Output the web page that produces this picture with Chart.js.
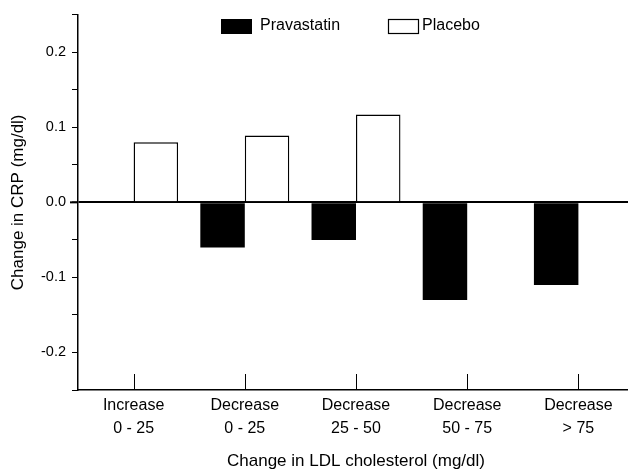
<!DOCTYPE html>
<html>
<head>
<meta charset="utf-8">
<script src="https://cdn.jsdelivr.net/npm/chart.js@4"></script>
<style>
  html, body { margin: 0; padding: 0; background: #fff; overflow: hidden; }
  #wrap { width: 634px; height: 473px; }
</style>
</head>
<body>
<div id="wrap"><canvas id="chart"></canvas></div>
<script>
const categories = [
    ['Increase', '0 - 25'],
    ['Decrease', '0 - 25'],
    ['Decrease', '25 - 50'],
    ['Decrease', '50 - 75'],
    ['Decrease', '> 75']
];
const pravastatin = [0, -0.06, -0.05, -0.13, -0.11];
const placebo = [0.08, 0.089, 0.117, 0, 0];
const yTicks = [-0.2, -0.1, 0.0, 0.1, 0.2];

const font = "'Liberation Sans', Arial, sans-serif";

// ticks pointing up into the plot at each category
const innerTicks = {
    id: 'innerTicks',
    afterDatasetsDraw(chart) {
        const c = chart.ctx, x = chart.scales.x, bottom = chart.chartArea.bottom;
        c.save();
        c.strokeStyle = '#000';
        c.lineWidth = 1;
        categories.forEach((cat, i) => {
            const px = Math.round(x.getPixelForValue(i)) + 0.5;
            c.beginPath();
            c.moveTo(px, bottom);
            c.lineTo(px, bottom - 16);
            c.stroke();
        });
        // zero line runs a little past the axis on the left
        const y0 = chart.scales.y.getPixelForValue(0);
        c.lineWidth = 2;
        c.beginPath();
        c.moveTo(chart.chartArea.left - 8, y0);
        c.lineTo(chart.chartArea.left, y0);
        c.stroke();
        c.restore();
    }
};

// legend sitting inside the plot
const insideLegend = {
    id: 'insideLegend',
    afterDraw(chart) {
        const c = chart.ctx;
        const spots = [{box: 221, text: 260}, {box: 388, text: 422}];
        c.save();
        c.font = '16px ' + font;
        c.textBaseline = 'middle';
        chart.data.datasets.forEach((ds, i) => {
            const s = spots[i];
            c.fillStyle = ds.backgroundColor;
            c.fillRect(s.box, 19, 31, 15);
            if (ds.borderWidth) {
                c.strokeStyle = '#000';
                c.lineWidth = 1.2;
                c.strokeRect(s.box + 0.5, 19.5, 30, 14);
            }
            c.fillStyle = '#000';
            c.fillText(ds.label, s.text, 26);
        });
        c.restore();
    }
};

new Chart(document.getElementById('chart'), {
    type: 'bar',
    data: {
        labels: categories,
        datasets: [
            {
                label: 'Pravastatin',
                data: pravastatin,
                backgroundColor: '#000',
                borderWidth: 0
            },
            {
                label: 'Placebo',
                data: placebo,
                backgroundColor: '#fff',
                borderColor: '#000',
                borderWidth: 1.4
            }
        ]
    },
    options: {
        responsive: true,
        maintainAspectRatio: false,
        animation: false,
        categoryPercentage: 0.8,
        barPercentage: 1.0,
        layout: { padding: { top: 11, right: 0, bottom: 1, left: 0 } },
        plugins: {
            legend: { display: false },
            tooltip: { enabled: false }
        },
        scales: {
            x: {
                grid: { drawOnChartArea: false, drawTicks: false },
                border: { color: '#000', width: 1.5 },
                ticks: {
                    color: '#000',
                    font: { family: font, size: 16, lineHeight: 1.44 },
                    padding: 4,
                    maxRotation: 0
                },
                title: {
                    display: true,
                    text: 'Change in LDL cholesterol (mg/dl)',
                    color: '#000',
                    font: { family: font, size: 17 },
                    padding: { top: 0, bottom: 0 }
                },
                afterFit(scale) { scale.height = 82; }
            },
            y: {
                min: -0.25,
                max: 0.25,
                ticks: {
                    stepSize: 0.05,
                    color: '#000',
                    font: { family: font, size: 14.5 },
                    padding: 6,
                    callback(v) {
                        const hit = yTicks.find(t => Math.abs(t - v) < 1e-9);
                        return hit === undefined ? '' : hit.toFixed(1);
                    }
                },
                grid: {
                    color: ctx => Math.abs(ctx.tick.value) < 1e-9 ? '#000' : 'rgba(0,0,0,0)',
                    lineWidth: ctx => Math.abs(ctx.tick.value) < 1e-9 ? 2 : 1,
                    tickColor: '#000',
                    tickLength: 6,
                    tickWidth: 1
                },
                border: { color: '#000', width: 1.5 },
                title: {
                    display: true,
                    text: 'Change in CRP (mg/dl)',
                    color: '#000',
                    font: { family: font, size: 17 },
                    padding: { top: 8, bottom: 0 }
                },
                afterFit(scale) { scale.width = 78; }
            }
        }
    },
    plugins: [innerTicks, insideLegend]
});
</script>
</body>
</html>
